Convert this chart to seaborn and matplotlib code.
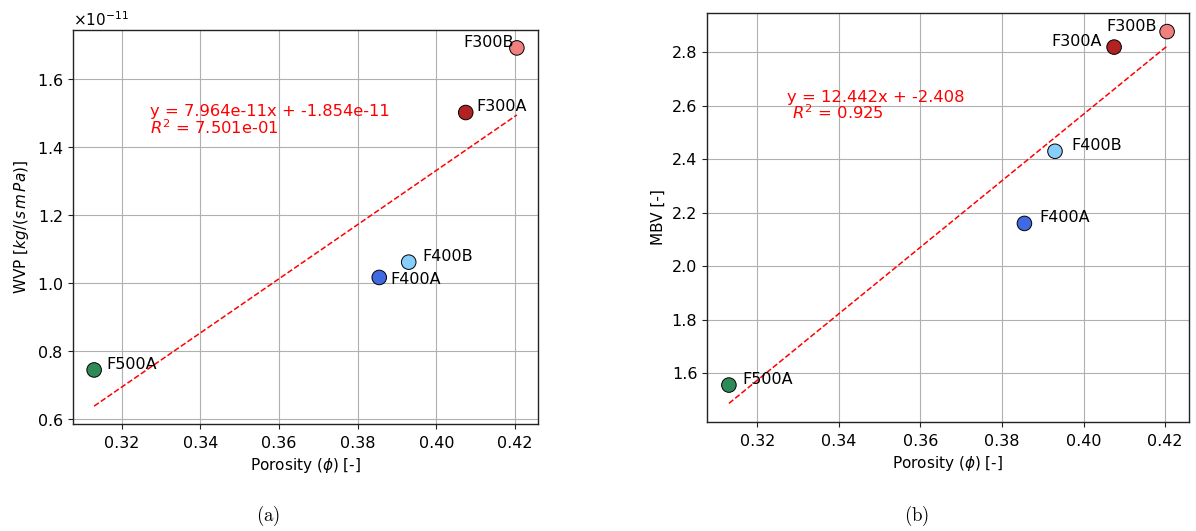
import numpy as np
import pandas as pd
import matplotlib
matplotlib.use("Agg")
import matplotlib.pyplot as plt
import seaborn as sns

# Sample names, porosity and measured properties
samples = ["F500A", "F400A", "F400B", "F300A", "F300B"]
porosity = [0.313, 0.3855, 0.393, 0.4075, 0.4205]
wvp = [0.745e-11, 1.017e-11, 1.062e-11, 1.502e-11, 1.692e-11]
mbv = [1.555, 2.160, 2.430, 2.820, 2.878]

# Linear fits (slope, intercept, R^2)
wvp_fit = (7.964e-11, -1.854e-11, 7.501e-01)
mbv_fit = (12.442, -2.408, 0.925)

colors = {
    "F500A": "#2e8b57",
    "F400A": "#4169e1",
    "F400B": "#87cefa",
    "F300A": "#b22222",
    "F300B": "#f08080",
}

# label offsets in points and horizontal alignment, per panel
wvp_offsets = {
    "F500A": ((9, 4), "left"),
    "F400A": ((8, -1.5), "left"),
    "F400B": ((10, 4), "left"),
    "F300A": ((8, 4), "left"),
    "F300B": ((-2, 4), "right"),
}
mbv_offsets = {
    "F500A": ((10, 4), "left"),
    "F400A": ((11, 4), "left"),
    "F400B": ((12, 4), "left"),
    "F300A": ((-9, 4), "right"),
    "F300B": ((-7, 4), "right"),
}

df = pd.DataFrame({"sample": samples, "porosity": porosity,
                   "WVP": wvp, "MBV": mbv})

sns.set_style("ticks")
plt.rcParams["font.family"] = ["DejaVu Sans"]
plt.rcParams.update({
    "text.color": "black",
    "axes.labelcolor": "black",
    "xtick.color": "black",
    "ytick.color": "black",
})

fig = plt.figure(figsize=(11.96, 5.31), dpi=100)
W, H = 1196, 531


def px_axes(x0, x1, y0, y1):
    return fig.add_axes([x0 / W, 1 - y1 / H, (x1 - x0) / W, (y1 - y0) / H])


ax_a = px_axes(73, 538, 30, 424)
ax_b = px_axes(707, 1189, 13, 422)


def panel(ax, ycol, fit, offsets, eq_text, ylabel):
    slope, intercept, r2 = fit
    xs = np.array([min(porosity), max(porosity)])
    sns.lineplot(x=xs, y=slope * xs + intercept, ax=ax, color="red",
                 linestyle="--", linewidth=1.1, zorder=2)
    sns.scatterplot(data=df, x="porosity", y=ycol, hue="sample",
                    palette=colors, s=110, edgecolor="black",
                    linewidth=0.7, legend=False, ax=ax, zorder=3)
    for name, xv, yv in zip(df["sample"], df["porosity"], df[ycol]):
        off, ha = offsets[name]
        ax.annotate(name, (xv, yv), xytext=off, textcoords="offset points",
                    ha=ha, va="center", fontsize=11.5, zorder=4)
    ax.text(0.165, 0.812, eq_text, transform=ax.transAxes, color="red",
            fontsize=11.8, va="top", ha="left", linespacing=0.92)
    ax.grid(True, color="#b0b0b0", linewidth=0.8)
    ax.set_axisbelow(True)
    for sp in ax.spines.values():
        sp.set_color("#222222")
        sp.set_linewidth(1.0)
    ax.tick_params(labelsize=11.5, length=3.5, width=0.8, color="#222222")
    ax.tick_params(axis="x", pad=5)
    ax.set_xlabel(r"Porosity ($\phi$) [-]", fontsize=11)
    ax.set_ylabel(ylabel, fontsize=11)


panel(ax_a, "WVP", wvp_fit, wvp_offsets,
      "y = {:.3e}x + {:.3e}\n$R^2$ = {:.3e}".format(*wvp_fit),
      r"WVP [$kg/(s\,m\,Pa)$]")
ax_a.ticklabel_format(axis="y", style="sci", scilimits=(0, 0),
                      useMathText=True)
ax_a.yaxis.get_offset_text().set_fontsize(11)

panel(ax_b, "MBV", mbv_fit, mbv_offsets,
      "y = {:.3f}x + {:.3f}\n $R^2$ = {:.3f}".format(*mbv_fit),
      "MBV [-]")

fig.text(268 / W, 1 - 516 / H, r"$\mathrm{(a)}$", ha="center", va="center",
         fontsize=13.5, math_fontfamily="cm")
fig.text(917 / W, 1 - 516 / H, r"$\mathrm{(b)}$", ha="center", va="center",
         fontsize=13.5, math_fontfamily="cm")

fig.savefig("out.png", dpi=100)
